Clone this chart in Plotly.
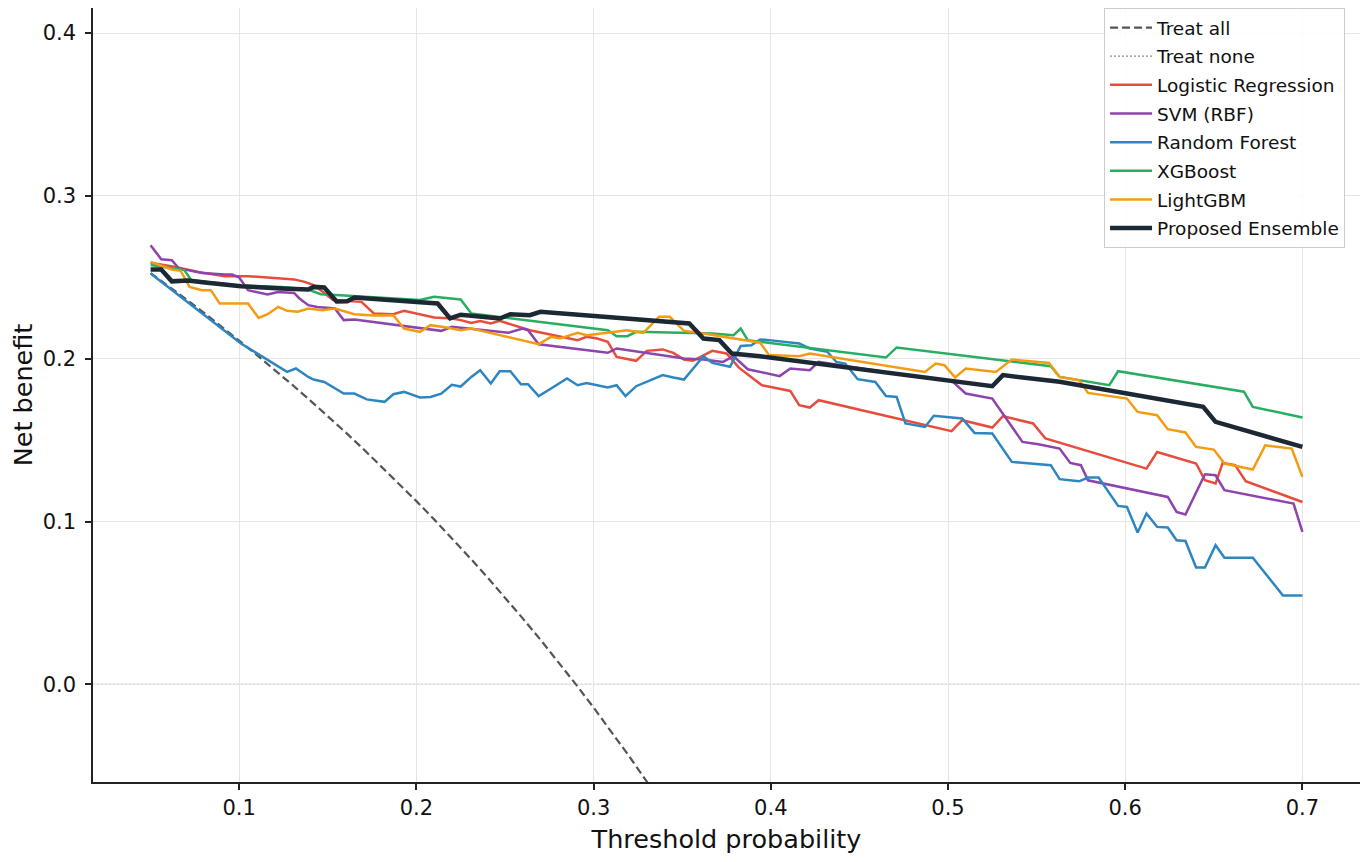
import plotly.graph_objects as go

# axis limits (as in the original figure; top trimmed by the page's 8px body margin)
x_range = [0.0175, 0.7325]
y_range = [-0.06, 0.4154]

# reference strategy: treat all (read at 0.01 steps)
treat_all_x = [0.05, 0.06, 0.07, 0.08, 0.09, 0.10, 0.11, 0.12, 0.13, 0.14, 0.15,
               0.16, 0.17, 0.18, 0.19, 0.20, 0.21, 0.22, 0.23, 0.24, 0.25, 0.26,
               0.27, 0.28, 0.29, 0.30, 0.31, 0.32, 0.33, 0.34]
treat_all_y = [0.2526, 0.2447, 0.2366, 0.2283, 0.2198, 0.2111, 0.2022, 0.1932,
               0.1839, 0.1744, 0.1647, 0.1548, 0.1446, 0.1341, 0.1235, 0.1125,
               0.1013, 0.0897, 0.0779, 0.0658, 0.0533, 0.0405, 0.0274, 0.0139,
               0.0, -0.0143, -0.0290, -0.0441, -0.0597, -0.0758]

# model curves
lr_x = [0.05, 0.064, 0.077, 0.092, 0.105, 0.120, 0.131, 0.137, 0.142, 0.146, 0.153,
        0.169, 0.176, 0.187, 0.193, 0.210, 0.220, 0.225, 0.231, 0.236, 0.242, 0.247,
        0.264, 0.291, 0.296, 0.302, 0.308, 0.313, 0.324, 0.330, 0.339, 0.345, 0.351,
        0.356, 0.367, 0.375, 0.382, 0.395, 0.411, 0.416, 0.422, 0.427, 0.502, 0.508,
        0.525, 0.531, 0.548, 0.555, 0.612, 0.618, 0.640, 0.645, 0.651, 0.655, 0.662,
        0.668, 0.700]
lr_y = [0.2589, 0.2564, 0.2533, 0.2507, 0.2507, 0.2493, 0.2487, 0.2472, 0.2452,
        0.2421, 0.236, 0.2349, 0.2278, 0.2273, 0.2294, 0.2253, 0.2247, 0.2237, 0.222,
        0.2232, 0.2216, 0.2232, 0.2175, 0.2114, 0.2134, 0.2124, 0.2104, 0.2011, 0.1987,
        0.2048, 0.2057, 0.2036, 0.1995, 0.1987, 0.2048, 0.2032, 0.1945, 0.1837, 0.1802,
        0.1714, 0.17, 0.1745, 0.1555, 0.1622, 0.1577, 0.1647, 0.1602, 0.151, 0.1325,
        0.1427, 0.1356, 0.1253, 0.1233, 0.136, 0.1346, 0.1247, 0.112]

svm_x = [0.05, 0.056, 0.062, 0.066, 0.071, 0.079, 0.092, 0.096, 0.100, 0.105, 0.116,
         0.122, 0.131, 0.134, 0.139, 0.144, 0.154, 0.159, 0.165, 0.214, 0.220, 0.252,
         0.260, 0.263, 0.269, 0.308, 0.313, 0.351, 0.362, 0.373, 0.379, 0.387, 0.405,
         0.411, 0.422, 0.427, 0.445, 0.475, 0.502, 0.510, 0.525, 0.542, 0.551, 0.563,
         0.569, 0.575, 0.579, 0.624, 0.629, 0.634, 0.645, 0.651, 0.656, 0.695, 0.700]
svm_y = [0.2697, 0.2611, 0.2605, 0.2554, 0.2544, 0.2527, 0.2517, 0.2517, 0.2499,
         0.2421, 0.2394, 0.241, 0.2404, 0.237, 0.2329, 0.2318, 0.2308, 0.2237, 0.224,
         0.2171, 0.2196, 0.2159, 0.2185, 0.2175, 0.2089, 0.2036, 0.2063, 0.2001, 0.1995,
         0.198, 0.2015, 0.1935, 0.1893, 0.194, 0.1929, 0.198, 0.195, 0.19, 0.1865,
         0.1786, 0.1755, 0.1489, 0.1475, 0.1448, 0.136, 0.1346, 0.1253, 0.1151, 0.1059,
         0.1043, 0.129, 0.1284, 0.1192, 0.111, 0.0936]

rf_x = [0.05, 0.101, 0.127, 0.132, 0.139, 0.142, 0.148, 0.159, 0.165, 0.172, 0.182,
        0.187, 0.193, 0.202, 0.208, 0.214, 0.220, 0.225, 0.231, 0.236, 0.242, 0.247,
        0.253, 0.259, 0.263, 0.269, 0.276, 0.285, 0.291, 0.296, 0.302, 0.308, 0.313,
        0.318, 0.324, 0.339, 0.345, 0.351, 0.362, 0.367, 0.377, 0.383, 0.389, 0.394,
        0.399, 0.416, 0.422, 0.432, 0.437, 0.442, 0.449, 0.459, 0.465, 0.471, 0.476,
        0.487, 0.492, 0.508, 0.515, 0.525, 0.536, 0.558, 0.563, 0.574, 0.579, 0.585,
        0.596, 0.601, 0.607, 0.612, 0.618, 0.624, 0.629, 0.634, 0.640, 0.645, 0.651,
        0.656, 0.672, 0.689, 0.700]
rf_y = [0.2523, 0.2093, 0.1919, 0.194, 0.1888, 0.1872, 0.1857, 0.1786, 0.1786, 0.175,
        0.1735, 0.1782, 0.1796, 0.1762, 0.1765, 0.1785, 0.184, 0.1829, 0.1888, 0.1929,
        0.1848, 0.1923, 0.1923, 0.1843, 0.1843, 0.177, 0.1817, 0.1878, 0.1837, 0.1851,
        0.1837, 0.1823, 0.1837, 0.177, 0.1831, 0.1899, 0.1884, 0.1872, 0.2015, 0.1974,
        0.195, 0.2078, 0.2083, 0.2118, 0.2114, 0.2093, 0.2063, 0.2042, 0.198, 0.197,
        0.1874, 0.1857, 0.1771, 0.1765, 0.1602, 0.1581, 0.1649, 0.1633, 0.1544, 0.154,
        0.1366, 0.1346, 0.126, 0.1247, 0.127, 0.127, 0.1096, 0.1089, 0.0932, 0.1049,
        0.0967, 0.0963, 0.0885, 0.088, 0.0717, 0.0717, 0.0854, 0.0778, 0.0778, 0.0545,
        0.0545]

xgb_x = [0.05, 0.062, 0.069, 0.073, 0.101, 0.124, 0.139, 0.146, 0.157, 0.202, 0.210,
         0.225, 0.231, 0.308, 0.313, 0.319, 0.324, 0.367, 0.379, 0.383, 0.387, 0.465,
         0.471, 0.558, 0.563, 0.591, 0.596, 0.667, 0.672, 0.700]
xgb_y = [0.2575, 0.2555, 0.2544, 0.2482, 0.2448, 0.2441, 0.2425, 0.2396, 0.239, 0.236,
         0.238, 0.2364, 0.2278, 0.2175, 0.2138, 0.2138, 0.2165, 0.2155, 0.2144, 0.2185,
         0.2114, 0.2007, 0.2069, 0.1954, 0.1888, 0.1837, 0.1923, 0.1797, 0.1704, 0.1639]

lgbm_x = [0.05, 0.062, 0.067, 0.072, 0.079, 0.084, 0.089, 0.105, 0.111, 0.116, 0.122,
          0.127, 0.133, 0.139, 0.147, 0.154, 0.165, 0.176, 0.187, 0.193, 0.202, 0.208,
          0.217, 0.225, 0.231, 0.269, 0.276, 0.281, 0.291, 0.296, 0.308, 0.319, 0.328,
          0.337, 0.343, 0.351, 0.362, 0.382, 0.394, 0.399, 0.416, 0.422, 0.487, 0.493,
          0.498, 0.504, 0.510, 0.527, 0.536, 0.557, 0.563, 0.574, 0.579, 0.601, 0.607,
          0.618, 0.624, 0.634, 0.640, 0.650, 0.656, 0.672, 0.679, 0.694, 0.700]
lgbm_y = [0.2595, 0.2548, 0.254, 0.2441, 0.2421, 0.2421, 0.2339, 0.2339, 0.225, 0.2273,
          0.2318, 0.2294, 0.2288, 0.2308, 0.2298, 0.2308, 0.2273, 0.2265, 0.2267, 0.2185,
          0.2165, 0.2206, 0.2192, 0.2175, 0.2185, 0.2089, 0.2134, 0.2124, 0.2159, 0.2144,
          0.2159, 0.2175, 0.2159, 0.2257, 0.2257, 0.2171, 0.2155, 0.2118, 0.2098, 0.2022,
          0.2015, 0.2032, 0.1919, 0.197, 0.196, 0.1885, 0.194, 0.1919, 0.1995, 0.1974,
          0.1888, 0.1868, 0.179, 0.1755, 0.1673, 0.1653, 0.1567, 0.1547, 0.1458, 0.1442,
          0.1356, 0.1319, 0.1468, 0.1448, 0.1274]

ens_x = [0.05, 0.056, 0.062, 0.071, 0.082, 0.101, 0.124, 0.139, 0.142, 0.148, 0.155,
         0.161, 0.165, 0.212, 0.219, 0.225, 0.247, 0.253, 0.264, 0.270, 0.354, 0.362,
         0.371, 0.378, 0.394, 0.525, 0.531, 0.563, 0.644, 0.651, 0.700]
ens_y = [0.2548, 0.2548, 0.2475, 0.248, 0.2466, 0.2445, 0.2431, 0.2425, 0.2441, 0.2437,
         0.2351, 0.2353, 0.2376, 0.2339, 0.2247, 0.227, 0.2247, 0.2273, 0.2267, 0.2288,
         0.2216, 0.2124, 0.2114, 0.2032, 0.2015, 0.1831, 0.1899, 0.1858, 0.1704, 0.1612,
         0.1458]

x_ticks = [0.1, 0.2, 0.3, 0.4, 0.5, 0.6, 0.7]
y_ticks = [0.0, 0.1, 0.2, 0.3, 0.4]

models = [
    ("Logistic Regression", lr_x, lr_y, "#e74c3c", 2.5),
    ("SVM (RBF)", svm_x, svm_y, "#8e44ad", 2.5),
    ("Random Forest", rf_x, rf_y, "#2e86c1", 2.5),
    ("XGBoost", xgb_x, xgb_y, "#27ae60", 2.5),
    ("LightGBM", lgbm_x, lgbm_y, "#f39c12", 2.5),
    ("Proposed Ensemble", ens_x, ens_y, "#1c2833", 4.5),
]

fig = go.Figure()

fig.add_trace(go.Scatter(x=treat_all_x, y=treat_all_y, mode="lines", name="Treat all",
                         line=dict(color="#555555", width=2.2, dash="8px,4px"),
                         legendrank=1, legendgroup="all"))

fig.add_hline(y=0, line=dict(color="#888888", width=1.2, dash="2px,2px"),
              showlegend=True, name="Treat none", legendrank=2, legendgroup="none",
              layer="below")

for i, (name, xs, ys, col, w) in enumerate(models):
    fig.add_trace(go.Scatter(x=xs, y=ys, mode="lines", name=name,
                             line=dict(color=col, width=w), legendrank=3 + i,
                             legendgroup=name))

axis_font = dict(family="DejaVu Sans", size=21, color="#111111")
title_font = dict(family="DejaVu Sans", size=25.5, color="#111111")

# page body has an 8px margin, so the figure is sized to fit inside it
fig.update_layout(
    width=1354, height=846,
    margin=dict(l=85, r=2, t=0, b=72),
    plot_bgcolor="white", paper_bgcolor="white",
    font=dict(family="DejaVu Sans", color="#111111"),
    legend=dict(x=0.9882, y=1.0, xanchor="right", yanchor="top",
                bgcolor="rgba(255,255,255,0.85)", bordercolor="#cccccc", borderwidth=1,
                font=dict(family="DejaVu Sans", size=18.5), itemwidth=42,
                tracegroupgap=1.6),
    xaxis=dict(range=x_range, tickvals=x_ticks, tickformat=".1f", tickfont=axis_font,
               showgrid=True, gridcolor="#e5e5e5", gridwidth=1, zeroline=False,
               showline=True, linecolor="#222222", linewidth=1.5, automargin=False,
               ticks="outside", ticklen=6, tickwidth=1.5, tickcolor="#222222",
               title=dict(text="Threshold probability", font=title_font, standoff=13)),
    yaxis=dict(range=y_range, tickvals=y_ticks, tickformat=".1f", tickfont=axis_font,
               showgrid=True, gridcolor="#e5e5e5", gridwidth=1, zeroline=False,
               showline=True, linecolor="#222222", linewidth=1.5, automargin=False,
               ticks="outside", ticklen=6, tickwidth=1.5, tickcolor="#222222",
               ticklabelstandoff=5,
               title=dict(text="Net benefit", font=title_font, standoff=17)),
)

fig.write_html("out.html")
